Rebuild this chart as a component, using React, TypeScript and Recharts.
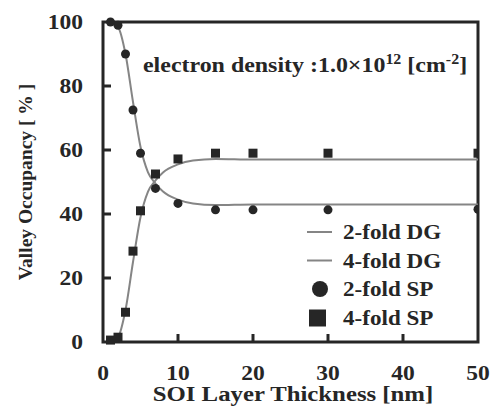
import React from 'react';
import {
  ComposedChart,
  Line,
  Scatter,
  XAxis,
  YAxis,
  ReferenceArea,
} from 'recharts';

// simulation points (SP)
const spThickness = [1, 2, 3, 4, 5, 7, 10, 15, 20, 30, 50];
const twoFoldSP = [100, 99, 90, 72.5, 59, 48, 43.3, 41.3, 41.3, 41.3, 41.5];
const fourFoldSP = [0.6, 1.5, 9.3, 28.4, 41, 52.5, 57.2, 59, 59, 59, 59];

// density-gradient (DG) curves
const dgThickness = [1, 2, 3, 4, 5, 6, 7, 8, 10, 12, 15, 20, 30, 50];
const twoFoldDG = [100, 98.5, 90, 75, 61, 53, 49.5, 47, 44.5, 43.3, 42.8, 43, 43, 43];
const fourFoldDG = [0, 1.5, 10, 25, 39, 47, 50.5, 53, 55.5, 56.7, 57.2, 57, 57, 57];

const xTicks = [0, 10, 20, 30, 40, 50];
const yTicks = [0, 20, 40, 60, 80, 100];

const legendItems = ['2-fold DG', '4-fold DG', '2-fold SP', '4-fold SP'];
const legendKinds = ['line', 'line', 'circle', 'square'];

const dgData = dgThickness.map((t, i) => ({ t, two: twoFoldDG[i], four: fourFoldDG[i] }));
const sp2 = spThickness.map((t, i) => ({ t, v: twoFoldSP[i] }));
const sp4 = spThickness.map((t, i) => ({ t, v: fourFoldSP[i] }));

const FONT = '"Liberation Serif", "Times New Roman", serif';
const INK = '#262626';
const GRAY = '#858585';

// the original figure is a bit stretched sideways, so horizontal text gets a scaleX
const SText = ({ x, y, anchor = 'start', size = 21, sx = 1.12, children }: any) => (
  <text
    transform={`translate(${x},${y}) scale(${sx},1)`}
    textAnchor={anchor}
    fontFamily={FONT}
    fontWeight="bold"
    fontSize={size}
    fill={INK}
  >
    {children}
  </text>
);

const XTick = (props: any) => {
  const { x, y, payload } = props;
  const v = payload.value;
  return (
    <g>
      {v !== 0 && v !== 50 && (
        <line x1={x} x2={x} y1={y} y2={y - 8} stroke={INK} strokeWidth={3} />
      )}
      <SText x={x} y={y + 38} anchor="middle">{v}</SText>
    </g>
  );
};

const YTick = (props: any) => {
  const { x, y, payload } = props;
  const v = payload.value;
  return (
    <g>
      {v !== 0 && v !== 100 && (
        <line x1={x} x2={x + 8} y1={y} y2={y} stroke={INK} strokeWidth={3} />
      )}
      <SText x={x - 20} y={y + 7} anchor="end">{v}</SText>
    </g>
  );
};

const circle = (props: any) => <circle cx={props.cx} cy={props.cy} r={4.5} fill={INK} />;
const square = (props: any) => (
  <rect x={props.cx - 4.5} y={props.cy - 4.5} width={9} height={9} fill={INK} />
);

const LegendBox = () => (
  <g>
    {legendItems.map((label, i) => {
      const cy = 232 + i * 28.5;
      const kind = legendKinds[i];
      return (
        <g key={label}>
          {kind === 'line' && (
            <line x1={307} x2={332} y1={cy} y2={cy} stroke={GRAY} strokeWidth={2} />
          )}
          {kind === 'circle' && <circle cx={320} cy={cy} r={8} fill={INK} />}
          {kind === 'square' && <rect x={309} y={cy - 8} width={17} height={17} fill={INK} />}
          <SText x={343} y={cy + 7} sx={1.1}>{label}</SText>
        </g>
      );
    })}
  </g>
);

export default function App() {
  return (
    <div style={{ position: 'absolute', left: 0, top: 0, background: '#fff' }}>
      <ComposedChart
        width={491}
        height={408}
        data={dgData}
        margin={{ top: 22, right: 13, bottom: 0, left: 0 }}
      >
        <XAxis
          dataKey="t"
          type="number"
          domain={[0, 50]}
          ticks={xTicks}
          height={66}
          tickSize={0}
          tickMargin={0}
          tickLine={false}
          axisLine={false}
          tick={<XTick />}
          allowDataOverflow
        />
        <YAxis
          type="number"
          domain={[0, 100]}
          ticks={yTicks}
          width={103}
          tickSize={0}
          tickMargin={0}
          tickLine={false}
          axisLine={false}
          tick={<YTick />}
        />
        <ReferenceArea
          x1={0}
          x2={50}
          y1={0}
          y2={100}
          fill="none"
          stroke={INK}
          strokeWidth={3}
          ifOverflow="visible"
        />
        <Line
          dataKey="two"
          type="monotone"
          stroke={GRAY}
          strokeWidth={2}
          dot={false}
          isAnimationActive={false}
        />
        <Line
          dataKey="four"
          type="monotone"
          stroke={GRAY}
          strokeWidth={2}
          dot={false}
          isAnimationActive={false}
        />
        <Scatter data={sp2} dataKey="v" shape={circle} isAnimationActive={false} />
        <Scatter data={sp4} dataKey="v" shape={square} isAnimationActive={false} />
        <LegendBox />
        <SText x={143} y={72} size={21} sx={1.14}>
          electron density :1.0×10
          <tspan dy={-8} fontSize={14}>12</tspan>
          <tspan dy={8}> [cm</tspan>
          <tspan dy={-8} fontSize={14}>-2</tspan>
          <tspan dy={8}>]</tspan>
        </SText>
        <SText x={293} y={401} anchor="middle" size={21} sx={1.18}>
          SOI Layer Thickness [nm]
        </SText>
        <text
          x={32}
          y={182}
          transform="rotate(-90 32 182)"
          textAnchor="middle"
          fontFamily={FONT}
          fontWeight="bold"
          fontSize={19.5}
          fill={INK}
        >
          Valley Occupancy [ % ]
        </text>
      </ComposedChart>
    </div>
  );
}
